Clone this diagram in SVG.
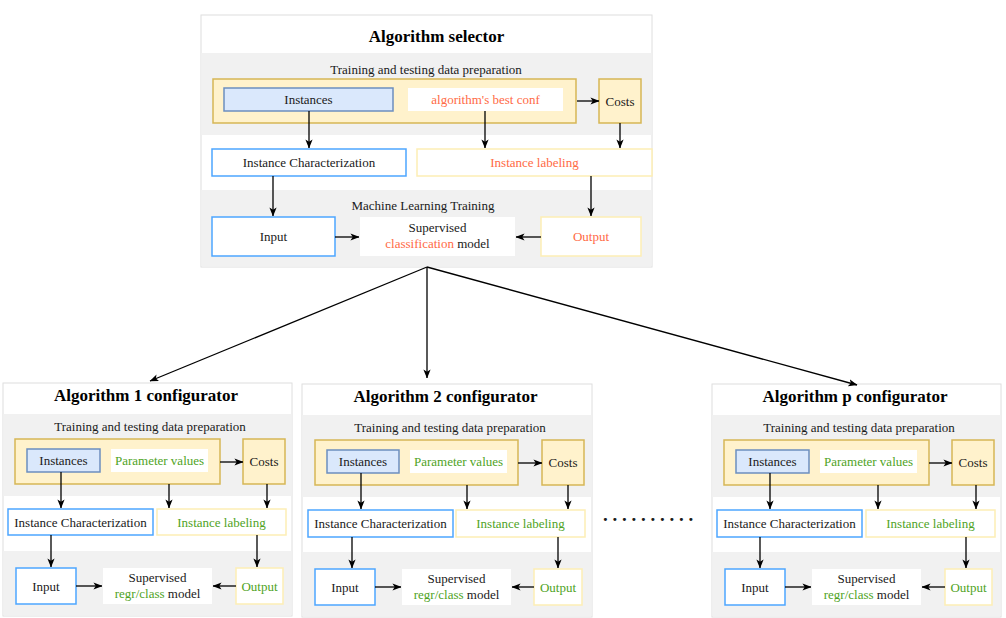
<svg xmlns="http://www.w3.org/2000/svg" width="1006" height="618" viewBox="0 0 1006 618">
<style>
text{font-family:"Liberation Serif","Times New Roman",serif;font-size:13px;fill:#1a1a1a;text-anchor:middle}
.title{font-size:17px;font-weight:bold;fill:#000}
.or{fill:#ff6a45}
.gr{fill:#4fa31e}
.panel{fill:#fff;stroke:#dedede;stroke-width:1}
.band{fill:#f1f1f1}
.yel{fill:#fff2cc;stroke:#d6b656;stroke-width:1.5}
.inst{fill:#dae8fc;stroke:#6c8ebf;stroke-width:1.5}
.wht{fill:#fff}
.blue{fill:#fff;stroke:#4da6ff;stroke-width:1.5}
.pale{fill:#fff;stroke:#fdeeb5;stroke-width:1.5}
.con{stroke:#000;stroke-width:1.3;fill:none;marker-end:url(#arr)}
</style>
<defs>
<marker id="arr" viewBox="0 0 10 10" refX="9.5" refY="5" markerWidth="9" markerHeight="9" markerUnits="userSpaceOnUse" orient="auto">
<path d="M0,1 L10,5 L0,9 L2.5,5 z" fill="#000"/>
</marker>
</defs>

<!-- Top panel: Algorithm selector -->
<g id="selector">
<rect class="panel" x="201" y="15" width="451" height="252"/>
<rect class="band" x="201.5" y="53" width="450" height="82"/>
<rect class="band" x="201.5" y="190" width="450" height="76.5"/>
<text class="title" x="436.5" y="41.5">Algorithm selector</text>
<text x="426" y="74">Training and testing data preparation</text>
<text x="423" y="210">Machine Learning Training</text>
</g>
<g id="sel-prep"><rect class="yel" x="213" y="79" width="363" height="44"/></g>
<g id="sel-instances"><rect class="inst" x="224" y="88" width="169" height="23"/><text x="308.5" y="104">Instances</text></g>
<g id="sel-bestconf"><rect class="wht" x="408" y="88" width="155" height="23"/><text class="or" x="485.5" y="104">algorithm's best conf</text></g>
<g id="sel-costs"><rect class="yel" x="599" y="79" width="42" height="44"/><text x="620" y="105.5">Costs</text></g>
<g id="sel-ic"><rect class="blue" x="212" y="149" width="194" height="27"/><text x="309" y="167">Instance Characterization</text></g>
<g id="sel-il"><rect class="pale" x="417" y="149" width="235" height="27"/><text class="or" x="534.5" y="167">Instance labeling</text></g>
<g id="sel-input"><rect class="blue" x="212" y="217" width="123" height="39"/><text x="273.5" y="241">Input</text></g>
<g id="sel-model"><rect class="wht" x="360" y="217" width="155" height="39"/><text x="437.5" y="232">Supervised</text><text x="437.5" y="248"><tspan class="or">classification</tspan> model</text></g>
<g id="sel-output"><rect class="pale" x="541" y="217" width="100" height="39"/><text class="or" x="591" y="241">Output</text></g>

<!-- Configurator panels -->
<g id="conf1" transform="translate(3,383)">
<rect class="panel" x="0" y="0" width="289" height="233"/>
<rect class="band" x="0.5" y="31" width="288" height="82"/>
<rect class="band" x="0.5" y="168" width="288" height="64.5"/>
<text class="title" x="143" y="18">Algorithm 1 configurator</text>
<text x="147" y="48">Training and testing data preparation</text>
<g id="c1-prep"><rect class="yel" x="12" y="56" width="205" height="45"/></g>
<g id="c1-instances"><rect class="inst" x="24" y="66" width="73" height="23"/><text x="60.5" y="82">Instances</text></g>
<g id="c1-params"><rect class="wht" x="108" y="66" width="97" height="23"/><text class="gr" x="156.5" y="82">Parameter values</text></g>
<g id="c1-costs"><rect class="yel" x="240" y="56" width="42" height="45"/><text x="261" y="83">Costs</text></g>
<g id="c1-ic"><rect class="blue" x="5" y="126" width="145" height="26"/><text x="77.5" y="143.5">Instance Characterization</text></g>
<g id="c1-il"><rect class="pale" x="154" y="126" width="129" height="26"/><text class="gr" x="218.5" y="143.5">Instance labeling</text></g>
<g id="c1-input"><rect class="blue" x="13" y="185" width="60" height="36"/><text x="43" y="207.5">Input</text></g>
<g id="c1-model"><rect class="wht" x="100" y="185" width="109" height="36"/><text x="154.5" y="199">Supervised</text><text x="154.5" y="215"><tspan class="gr">regr/class</tspan> model</text></g>
<g id="c1-output"><rect class="pale" x="233" y="185" width="47" height="36"/><text class="gr" x="256.5" y="207.5">Output</text></g>
</g>

<g id="conf2" transform="translate(302,384)">
<rect class="panel" x="0" y="0" width="290" height="233"/>
<rect class="band" x="0.5" y="31" width="289" height="82"/>
<rect class="band" x="0.5" y="168" width="289" height="64.5"/>
<text class="title" x="143.5" y="18">Algorithm 2 configurator</text>
<text x="148" y="48">Training and testing data preparation</text>
<g id="c2-prep"><rect class="yel" x="13" y="56" width="203" height="45"/></g>
<g id="c2-instances"><rect class="inst" x="25" y="66" width="72" height="23"/><text x="61" y="82">Instances</text></g>
<g id="c2-params"><rect class="wht" x="108" y="66" width="97" height="23"/><text class="gr" x="156.5" y="82">Parameter values</text></g>
<g id="c2-costs"><rect class="yel" x="240" y="56" width="42" height="45"/><text x="261" y="83">Costs</text></g>
<g id="c2-ic"><rect class="blue" x="6" y="126" width="145" height="27"/><text x="78.5" y="144">Instance Characterization</text></g>
<g id="c2-il"><rect class="pale" x="154" y="126" width="129" height="27"/><text class="gr" x="218.5" y="144">Instance labeling</text></g>
<g id="c2-input"><rect class="blue" x="13" y="185" width="60" height="36"/><text x="43" y="207.5">Input</text></g>
<g id="c2-model"><rect class="wht" x="100" y="185" width="109" height="36"/><text x="154.5" y="199">Supervised</text><text x="154.5" y="215"><tspan class="gr">regr/class</tspan> model</text></g>
<g id="c2-output"><rect class="pale" x="232" y="185" width="48" height="36"/><text class="gr" x="256" y="207.5">Output</text></g>
</g>

<g id="confp" transform="translate(712,384)">
<rect class="panel" x="0" y="0" width="289" height="233"/>
<rect class="band" x="0.5" y="31" width="288" height="82"/>
<rect class="band" x="0.5" y="168" width="288" height="64.5"/>
<text class="title" x="143" y="18">Algorithm p configurator</text>
<text x="147" y="48">Training and testing data preparation</text>
<g id="cp-prep"><rect class="yel" x="12" y="56" width="205" height="45"/></g>
<g id="cp-instances"><rect class="inst" x="24" y="66" width="73" height="23"/><text x="60.5" y="82">Instances</text></g>
<g id="cp-params"><rect class="wht" x="108" y="66" width="97" height="23"/><text class="gr" x="156.5" y="82">Parameter values</text></g>
<g id="cp-costs"><rect class="yel" x="240" y="56" width="42" height="45"/><text x="261" y="83">Costs</text></g>
<g id="cp-ic"><rect class="blue" x="5" y="126" width="145" height="27"/><text x="77.5" y="144">Instance Characterization</text></g>
<g id="cp-il"><rect class="pale" x="154" y="126" width="129" height="27"/><text class="gr" x="218.5" y="144">Instance labeling</text></g>
<g id="cp-input"><rect class="blue" x="13" y="185" width="60" height="36"/><text x="43" y="207.5">Input</text></g>
<g id="cp-model"><rect class="wht" x="100" y="185" width="109" height="36"/><text x="154.5" y="199">Supervised</text><text x="154.5" y="215"><tspan class="gr">regr/class</tspan> model</text></g>
<g id="cp-output"><rect class="pale" x="233" y="185" width="47" height="36"/><text class="gr" x="256.5" y="207.5">Output</text></g>
</g>

<text id="ellipsis" x="648" y="521" style="font-size:19px;font-weight:bold">. . . . . . . . . .</text>

<!-- Connectors -->
<g id="connectors">
<path class="con" d="M577,101 L599,101"/>
<path class="con" d="M309,111 L309,148"/>
<path class="con" d="M485,111 L485,148"/>
<path class="con" d="M620,123 L620,148"/>
<path class="con" d="M273,176 L273,216"/>
<path class="con" d="M591,176 L591,216"/>
<path class="con" d="M335,237 L359,237"/>
<path class="con" d="M541,237 L516,237"/>
<path class="con" d="M427,267 L150,381"/>
<path class="con" d="M427,267 L427,378"/>
<path class="con" d="M427,267 L857,385"/>
<g transform="translate(3,383)">
<path class="con" d="M217,79 L240,79"/>
<path class="con" d="M58,89 L58,125"/>
<path class="con" d="M166,101 L166,125"/>
<path class="con" d="M264,101 L264,125"/>
<path class="con" d="M48,152 L48,184"/>
<path class="con" d="M254,152 L254,184"/>
<path class="con" d="M73,203 L99,203"/>
<path class="con" d="M233,203 L210,203"/>
</g>
<g transform="translate(302,384)">
<path class="con" d="M216,79 L240,79"/>
<path class="con" d="M59,89 L59,125"/>
<path class="con" d="M165,101 L165,125"/>
<path class="con" d="M266,101 L266,125"/>
<path class="con" d="M50,153 L50,184"/>
<path class="con" d="M256,153 L256,184"/>
<path class="con" d="M73,203 L99,203"/>
<path class="con" d="M232,203 L210,203"/>
</g>
<g transform="translate(712,384)">
<path class="con" d="M217,79 L240,79"/>
<path class="con" d="M58,89 L58,125"/>
<path class="con" d="M166,101 L166,125"/>
<path class="con" d="M264,101 L264,125"/>
<path class="con" d="M48,153 L48,184"/>
<path class="con" d="M254,153 L254,184"/>
<path class="con" d="M73,203 L99,203"/>
<path class="con" d="M233,203 L210,203"/>
</g>
</g>
</svg>
